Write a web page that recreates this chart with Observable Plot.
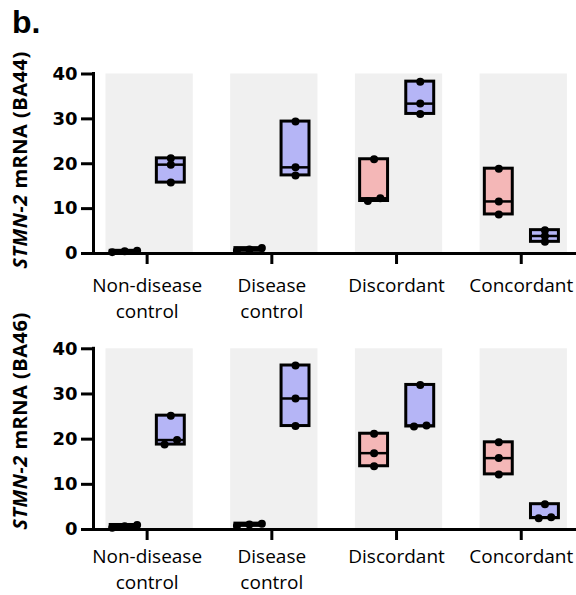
<!DOCTYPE html>
<html>
<head>
<meta charset="utf-8">
<script src="https://cdn.jsdelivr.net/npm/d3@7"></script>
<script src="https://cdn.jsdelivr.net/npm/@observablehq/plot@0.6"></script>
<style>
  html, body { margin: 0; padding: 0; background: #fff; }
  #wrap { position: relative; width: 576px; height: 595px; overflow: hidden; }
  #label { position: absolute; left: 12px; top: 4px; font: bold 32px "Liberation Sans", Arial, sans-serif; }
  .panel { position: absolute; left: 0; }
  .panel svg { overflow: visible; }
</style>
</head>
<body>
<div id="wrap">
  <div id="label">b.</div>
  <div id="p1" class="panel" style="top:55px"></div>
  <div id="p2" class="panel" style="top:325px"></div>
</div>
<script>
// ---- data ----
const groups = ["Non-disease\ncontrol", "Disease\ncontrol", "Discordant", "Concordant"];
const seriesNames = ["red", "blue"];
const seriesColors = ["#f4b7b7", "#b5b5f6"];
const yTicks = [0, 10, 20, 30, 40];

const ba44Red  = [[0.3, 0.5, 0.6], [0.6, 0.9, 1.2], [11.7, 12.3, 21.0], [8.7, 11.6, 18.9]];
const ba44Blue = [[15.8, 19.8, 21.2], [17.4, 19.2, 29.4], [31.1, 33.4, 38.3], [2.6, 3.9, 5.2]];
const ba46Red  = [[0.4, 0.7, 1.0], [0.8, 1.1, 1.3], [14.0, 16.9, 21.2], [12.2, 15.8, 19.3]];
const ba46Blue = [[18.8, 19.8, 25.2], [22.9, 29.0, 36.3], [22.8, 23.0, 32.0], [2.5, 2.7, 5.6]];

// ---- layout constants ----
const xDomain = [-0.43, 3.435];
const seriesOffset = [-0.18, 0.19];
const boxHalf = 0.112;
const bandLeft = 0.33, bandRight = 0.37;

function buildPanel(el, redVals, blueVals, region, opts) {
  const boxes = [];
  const pts = [];
  [redVals, blueVals].forEach((vals, s) => {
    vals.forEach((arr, g) => {
      const cx = g + seriesOffset[s];
      const sorted = arr.slice().sort((a, b) => a - b);
      boxes.push({g, s, x1: cx - boxHalf, x2: cx + boxHalf,
        lo: sorted[0], hi: sorted[sorted.length - 1], med: d3.median(sorted), fill: seriesColors[s]});
      // cluster overlapping points and spread them horizontally
      let clusters = [];
      sorted.forEach(v => {
        const last = clusters[clusters.length - 1];
        if (last && v - last[last.length - 1] < 1.25) last.push(v); else clusters.push([v]);
      });
      clusters.forEach(c => c.forEach((v, j) => pts.push({x: cx + (j - (c.length - 1) / 2) * 0.1, y: v})));
    });
  });
  const bands = groups.map((name, i) => ({x1: i - bandLeft, x2: i + bandRight}));

  const plot = Plot.plot({
    width: 576,
    height: 270,
    marginLeft: 93,
    marginRight: 1,
    marginTop: opts.marginTop,
    marginBottom: opts.marginBottom,
    style: {fontFamily: "'Open Sans', sans-serif", color: "#000", background: "transparent", overflow: "visible"},
    x: {domain: xDomain, axis: null},
    y: {domain: [0, 40], axis: null},
    marks: [
      Plot.rect(bands, {x1: "x1", x2: "x2", y1: 0, y2: 40, fill: "#f0f0f0"}),
      Plot.rect(boxes, {x1: "x1", x2: "x2", y1: "lo", y2: "hi", fill: "fill", stroke: "#000", strokeWidth: 3}),
      Plot.ruleY(boxes, {x1: "x1", x2: "x2", y: "med", stroke: "#000", strokeWidth: 2.5}),
      Plot.dot(pts, {x: "x", y: "y", r: 4, fill: "#000", stroke: "none"}),
      Plot.ruleX([xDomain[0]], {y1: 0, y2: 40, stroke: "#000", strokeWidth: 3, strokeLinecap: "square"}),
      Plot.ruleY([0], {x1: xDomain[0], x2: xDomain[1], stroke: "#000", strokeWidth: 3, strokeLinecap: "square"}),
      Plot.axisY(yTicks, {anchor: "left", tickSize: 12, tickPadding: 4, strokeWidth: 3,
        fontSize: 18, fontWeight: "bold", fontFamily: "'DejaVu Sans', sans-serif", fill: "#000", stroke: "#000"}),
      Plot.axisX(groups.map((d, i) => i), {anchor: "bottom", tickSize: 11, tickPadding: opts.tickPadding, strokeWidth: 3,
        tickFormat: i => groups[i], fontSize: 19, lineHeight: 1.4, fontFamily: "'Open Sans', sans-serif", fill: "#000", stroke: "#000"})
    ]
  });
  // y-axis title with italic gene name
  const svg = d3.select(plot);
  const t = svg.append("text")
    .attr("transform", `translate(${opts.titleX},${opts.titleY}) rotate(-90)`)
    .attr("text-anchor", "middle")
    .attr("font-family", "'Open Sans', sans-serif")
    .attr("font-weight", "bold")
    .attr("font-size", 20)
    .attr("letter-spacing", 0.5)
    .attr("fill", "#000");
  t.append("tspan").attr("font-style", "italic").text("STMN-2");
  t.append("tspan").text(` mRNA (${region})`);
  document.getElementById(el).appendChild(plot);
}

buildPanel("p1", ba44Red, ba44Blue, "BA44", {marginTop: 18.5, marginBottom: 72, tickPadding: 8.5, titleX: 27, titleY: 105});
buildPanel("p2", ba46Red, ba46Blue, "BA46", {marginTop: 23.3, marginBottom: 66, tickPadding: 3.5, titleX: 27, titleY: 96});
</script>
</body>
</html>
